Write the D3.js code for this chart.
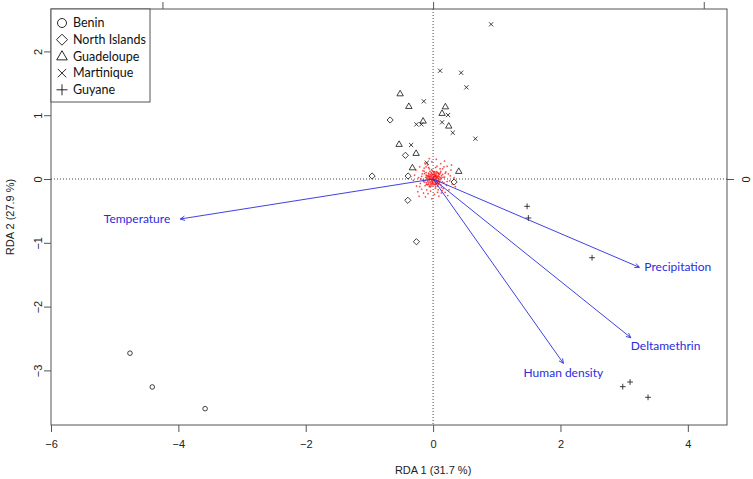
<!DOCTYPE html>
<html>
<head>
<meta charset="utf-8">
<script src="https://cdn.jsdelivr.net/npm/d3@7"></script>
<style>
  body { margin: 0; background: #fff; }
  svg { display: block; }
</style>
</head>
<body>
<svg id="chart" width="753" height="479"></svg>
<script>
// ---------- DATA ----------
const groups = ["Benin", "North Islands", "Guadeloupe", "Martinique", "Guyane"];
const groupShapes = ["circle", "diamond", "triangle", "times", "plus"];

const benin = [[-4.76, -2.73], [-4.41, -3.26], [-3.58, -3.60]];
const northIslands = [[-0.675, 0.925], [-0.958, 0.047], [-0.435, 0.371], [-0.392, 0.047],
  [0.33, -0.047], [-0.397, -0.334], [-0.262, -0.983]];
const guadeloupe = [[-0.518, 1.337], [-0.381, 1.139], [-0.157, 0.909], [0.193, 1.133],
  [0.141, 1.030], [0.246, 0.831], [-0.534, 0.544], [-0.267, 0.403], [-0.325, 0.177], [0.403, 0.121]];
const martinique = [[0.911, 2.425], [0.110, 1.697], [0.440, 1.666], [0.523, 1.437],
  [-0.146, 1.218], [0.235, 1.003], [-0.262, 0.857], [-0.184, 0.857], [0.141, 0.889],
  [0.309, 0.726], [0.664, 0.632], [-0.345, 0.533], [-0.099, 0.255]];
const guyane = [[1.476, -0.428], [1.496, -0.611], [2.496, -1.234], [2.978, -3.255],
  [3.093, -3.182], [3.375, -3.422]];
const groupPoints = [benin, northIslands, guadeloupe, martinique, guyane];

// environmental arrows (biplot scores, already scaled to plot units)
const envNames = ["Temperature", "Precipitation", "Deltamethrin", "Human density"];
const envX = [-3.97, 3.239, 3.104, 2.046];
const envY = [-0.627, -1.384, -2.487, -2.889];

// red cloud of loci scores near origin (estimated)
const loci = [[0.01,0.02],[-0.03,0.05],[0.05,-0.01],[-0.06,-0.03],[0.02,0.08],[-0.09,0.01],[0.08,0.04],
[0.00,-0.06],[-0.04,-0.08],[0.06,-0.07],[0.11,0.02],[-0.11,0.06],[0.03,0.11],[-0.02,-0.11],[0.09,-0.04],
[-0.07,0.09],[0.04,0.03],[-0.01,0.00],[0.07,0.10],[-0.10,-0.06],[0.12,-0.09],[-0.05,0.12],[0.00,0.04],
[0.02,-0.03],[-0.08,-0.01],[0.10,0.07],[-0.03,-0.04],[0.05,0.06],[-0.06,0.03],[0.01,-0.09],[0.08,-0.02],
[-0.12,-0.02],[0.04,-0.12],[-0.09,-0.09],[0.13,0.05],[-0.02,0.09],[0.06,0.01],[-0.04,0.01],[0.03,-0.06],
[-0.07,-0.06],[0.09,0.09],[-0.01,0.13],[0.00,-0.02],[0.07,-0.11],[-0.11,0.10],[0.12,0.12],[-0.13,-0.05],
[0.02,0.06],[-0.05,-0.10],[0.10,-0.06],[-0.02,0.02],[0.03,0.00],[-0.04,0.07],[0.06,-0.04],[0.01,0.10],
[-0.08,0.04],[0.05,0.09],[-0.06,-0.12],[0.11,-0.01],[-0.10,0.03],[0.00,0.07],[0.04,-0.09],[-0.03,-0.01],
[0.08,0.06],[-0.01,-0.05],[0.02,0.04],[-0.05,0.00],[0.07,0.02],[-0.02,-0.07],[0.04,0.05],[0.09,0.00],
[-0.07,0.05],[0.01,-0.01],[0.06,0.04],[-0.03,0.10],
[0.015,0.035],[-0.025,-0.015],[0.045,-0.045],[-0.055,0.045],[0.035,0.075],[-0.085,-0.035],[0.075,-0.065],
[-0.015,0.065],[0.055,0.025],[-0.045,-0.055],[0.095,0.035],[-0.065,0.075],[0.025,-0.085],[-0.035,0.035],
[0.065,-0.025],[-0.095,0.055],[0.105,-0.035],[-0.005,-0.035],[0.035,0.045],[-0.075,-0.085],[0.085,0.085],
[-0.115,0.025],[0.015,0.115],[-0.045,-0.125],[0.125,0.015],[0.045,-0.075],[-0.015,-0.085],[0.005,0.015],
[-0.065,0.015],[0.085,-0.085],[0.055,0.115],[-0.105,-0.085],[0.145,-0.045],[-0.135,0.085],[0.035,-0.145],
[-0.025,0.145],[0.115,0.095],[-0.125,-0.105],[0.155,0.025],[-0.155,-0.015],
[0.18,0.03],[-0.17,0.08],[0.21,-0.10],[-0.20,-0.07],[0.15,0.16],[-0.14,0.17],[0.06,0.20],[-0.04,-0.19],
[0.16,-0.15],[-0.18,-0.16],[0.24,0.08],[-0.23,0.02],[0.02,-0.24],[-0.09,0.22],[0.26,-0.03],[-0.26,-0.11],
[0.12,0.24],[0.19,-0.21],[-0.15,-0.22],[0.28,0.14],[-0.21,0.19],[0.09,-0.27],[-0.02,0.27],[0.30,-0.08],
[-0.29,0.06],[0.22,0.20],[-0.12,-0.28],[0.14,-0.18],[-0.16,0.13],[0.20,0.11],[-0.24,-0.20],[0.33,0.02],
[-0.31,-0.02],[0.05,0.31],[0.07,-0.21],[-0.07,0.18],[0.17,-0.06],[-0.19,0.00],[0.25,-0.17],[-0.13,0.25],
[0.11,0.16],[-0.10,-0.17],[0.35,-0.12],[-0.02,-0.31],[0.18,0.28],[-0.27,0.14],[0.29,0.22],[-0.06,0.32],
[0.23,-0.26],[-0.22,-0.27],[0.15,0.07],[-0.15,-0.04],[0.13,-0.13],[-0.14,0.12],
[0.19,0.09],[-0.18,0.04],[0.08,-0.17],[-0.06,0.16],[0.22,-0.04],[-0.21,-0.12],[0.04,0.18],[0.13,-0.22],
[-0.11,0.19],[0.27,0.05],[-0.08,-0.23],[0.17,0.19]];

const xTicks = [-6, -4, -2, 0, 2, 4];
const yTicks = [-3, -2, -1, 0, 1, 2];
const secondaryTicks = [-1, 0, 1];
const arrowMul = 4.25;
const xTitle = "RDA 1 (31.7 %)";
const yTitle = "RDA 2 (27.9 %)";

// ---------- LAYOUT ----------
const box = { left: 51, right: 727, top: 9, bottom: 425 };
const x = d3.scaleLinear().domain([-6.0, 4.615]).range([box.left, box.right]);
const y = d3.scaleLinear().domain([-3.856, 2.665]).range([box.bottom, box.top]);
const x2 = d3.scaleLinear().domain(x.domain().map(v => v / arrowMul)).range(x.range());
const y2 = d3.scaleLinear().domain(y.domain().map(v => v / arrowMul)).range(y.range());

const svg = d3.select("#chart");
const axisColor = "#555";
const axisFont = "'Liberation Sans', Arial, sans-serif";
const labelFont = "Lato, 'Open Sans', sans-serif";

// shape path generator (R-like open symbols)
function shapePath(type, r) {
  switch (type) {
    case "circle": return `M${r},0A${r},${r} 0 1,1 ${-r},0A${r},${r} 0 1,1 ${r},0Z`;
    case "diamond": return `M0,${-r}L${r},0L0,${r}L${-r},0Z`;
    case "triangle": {
      const h = r * 1.732;
      return `M0,${-h * 0.62}L${r},${h * 0.38}L${-r},${h * 0.38}Z`;
    }
    case "times": return `M${-r},${-r}L${r},${r}M${-r},${r}L${r},${-r}`;
    case "plus": return `M${-r},0L${r},0M0,${-r}L0,${r}`;
  }
}
const plotSize = { circle: 2.3, diamond: 3.1, triangle: 3.2, times: 2.1, plus: 2.9 };
const legendSize = { circle: 4.5, diamond: 5.5, triangle: 5.3, times: 4.2, plus: 5.5 };

// ---------- AXES ----------
const bottomAxis = d3.axisBottom(x).tickValues(xTicks).tickSize(7).tickPadding(8).tickFormat(d3.format("d"));
const gx = svg.append("g").attr("transform", `translate(0,${box.bottom})`).call(bottomAxis);
const leftAxis = d3.axisLeft(y).tickValues(yTicks).tickSize(7).tickPadding(4).tickFormat(d3.format("d"));
const gy = svg.append("g").attr("transform", `translate(${box.left},0)`).call(leftAxis);
const topAxis = d3.axisTop(x2).tickValues(secondaryTicks.filter(t => t >= x2.domain()[0] && t <= x2.domain()[1])).tickSize(7).tickFormat("");
const gt = svg.append("g").attr("transform", `translate(0,${box.top})`).call(topAxis);
const rightTicks = secondaryTicks.filter(t => t >= y2.domain()[0] && t <= y2.domain()[1]);
const rightAxis = d3.axisRight(y2).tickValues(rightTicks).tickSize(7).tickPadding(4).tickFormat(d3.format("d"));
const gr = svg.append("g").attr("transform", `translate(${box.right},0)`).call(rightAxis);

[gx, gy, gt, gr].forEach(g => {
  g.select(".domain").remove();
  g.selectAll(".tick line").attr("stroke", axisColor).attr("stroke-width", 1);
  g.selectAll(".tick text").attr("fill", "#222").style("font-family", axisFont).style("font-size", "11px");
});
// rotated tick labels on vertical axes (R las = 0)
gy.selectAll(".tick text")
  .attr("x", null).attr("dy", null)
  .attr("text-anchor", "middle")
  .attr("transform", "translate(-13,0) rotate(-90)")
  .attr("dy", "0.35em");
gr.selectAll(".tick text")
  .attr("x", null).attr("dy", null)
  .attr("text-anchor", "middle")
  .attr("transform", "translate(19,0) rotate(-90)")
  .attr("dy", "0.35em");

// box
svg.append("rect")
  .attr("x", box.left).attr("y", box.top)
  .attr("width", box.right - box.left).attr("height", box.bottom - box.top)
  .attr("fill", "none").attr("stroke", axisColor).attr("stroke-width", 1);

// titles
svg.append("text").attr("x", x(0)).attr("y", 474).attr("text-anchor", "middle")
  .style("font-family", axisFont).style("font-size", "11px").attr("fill", "#222").text(xTitle);
svg.append("text").attr("transform", `translate(14,${(box.top + box.bottom) / 2}) rotate(-90)`)
  .attr("text-anchor", "middle")
  .style("font-family", axisFont).style("font-size", "11px").attr("fill", "#222").text(yTitle);

// ---------- PLOT AREA ----------
const plot = svg.append("g");
// dotted zero lines
plot.append("line").attr("x1", box.left).attr("x2", box.right).attr("y1", y(0)).attr("y2", y(0))
  .attr("stroke", "#333").attr("stroke-width", 0.9).attr("stroke-dasharray", "1,2");
plot.append("line").attr("y1", box.top).attr("y2", box.bottom).attr("x1", x(0)).attr("x2", x(0))
  .attr("stroke", "#333").attr("stroke-width", 0.9).attr("stroke-dasharray", "1,2");

// group points
groupPoints.forEach((pts, gi) => {
  const shape = groupShapes[gi];
  plot.append("g").selectAll("path").data(pts).join("path")
    .attr("transform", d => `translate(${x(d[0])},${y(d[1])})`)
    .attr("d", shapePath(shape, plotSize[shape]))
    .attr("fill", "none").attr("stroke", "#111").attr("stroke-width", 0.8);
});

// red loci cloud
plot.append("g").selectAll("path").data(loci).join("path")
  .attr("transform", d => `translate(${x(d[0])},${y(d[1])})`)
  .attr("d", shapePath("plus", 0.9))
  .attr("fill", "none").attr("stroke", "#ff0000").attr("stroke-width", 0.6).attr("opacity", 0.9);

// arrows
const arrowColor = "#2b2bdd";
const envData = envNames.map((n, i) => ({ name: n, x: envX[i], y: envY[i] }));
const ag = plot.append("g");
envData.forEach(d => {
  const x0 = x(0), y0 = y(0), x1 = x(d.x), y1 = y(d.y);
  const ang = Math.atan2(y1 - y0, x1 - x0);
  const hl = 5, ha = Math.PI / 7;
  ag.append("line").attr("x1", x0).attr("y1", y0).attr("x2", x1).attr("y2", y1)
    .attr("stroke", arrowColor).attr("stroke-width", 0.9);
  ag.append("path")
    .attr("d", `M${x1 - hl * Math.cos(ang - ha)},${y1 - hl * Math.sin(ang - ha)}L${x1},${y1}L${x1 - hl * Math.cos(ang + ha)},${y1 - hl * Math.sin(ang + ha)}`)
    .attr("fill", "none").attr("stroke", arrowColor).attr("stroke-width", 0.9);
  // label placement rule by direction
  const dx = x1 - x0, dy = y1 - y0;
  let lx, ly, anchor;
  if (Math.abs(dx) > 2 * Math.abs(dy)) {
    anchor = dx > 0 ? "start" : "end";
    lx = x1 + (dx > 0 ? 5 : -10); ly = y1 + 4;
  } else if (Math.abs(dy) > Math.abs(dx)) {
    anchor = "middle"; lx = x1; ly = y1 + 14;
  } else {
    anchor = "start"; lx = x1; ly = y1 + 12;
  }
  ag.append("text").attr("x", lx).attr("y", ly).attr("text-anchor", anchor)
    .style("font-family", labelFont).style("font-size", "12px").attr("fill", arrowColor)
    .text(d.name);
});

// ---------- LEGEND ----------
const lg = svg.append("g");
lg.append("rect").attr("x", box.left).attr("y", box.top).attr("width", 99).attr("height", 93)
  .attr("fill", "#fff").attr("stroke", axisColor).attr("stroke-width", 1);
groups.forEach((g, i) => {
  const cy = box.top + 14 + i * 16.7;
  const shape = groupShapes[i];
  lg.append("path").attr("transform", `translate(${box.left + 11},${cy})`)
    .attr("d", shapePath(shape, legendSize[shape]))
    .attr("fill", "none").attr("stroke", "#111").attr("stroke-width", 0.9);
  lg.append("text").attr("x", box.left + 22).attr("y", cy).attr("dy", "0.35em")
    .style("font-family", labelFont).style("font-size", "12.5px").attr("fill", "#111").text(g);
});
</script>
</body>
</html>
